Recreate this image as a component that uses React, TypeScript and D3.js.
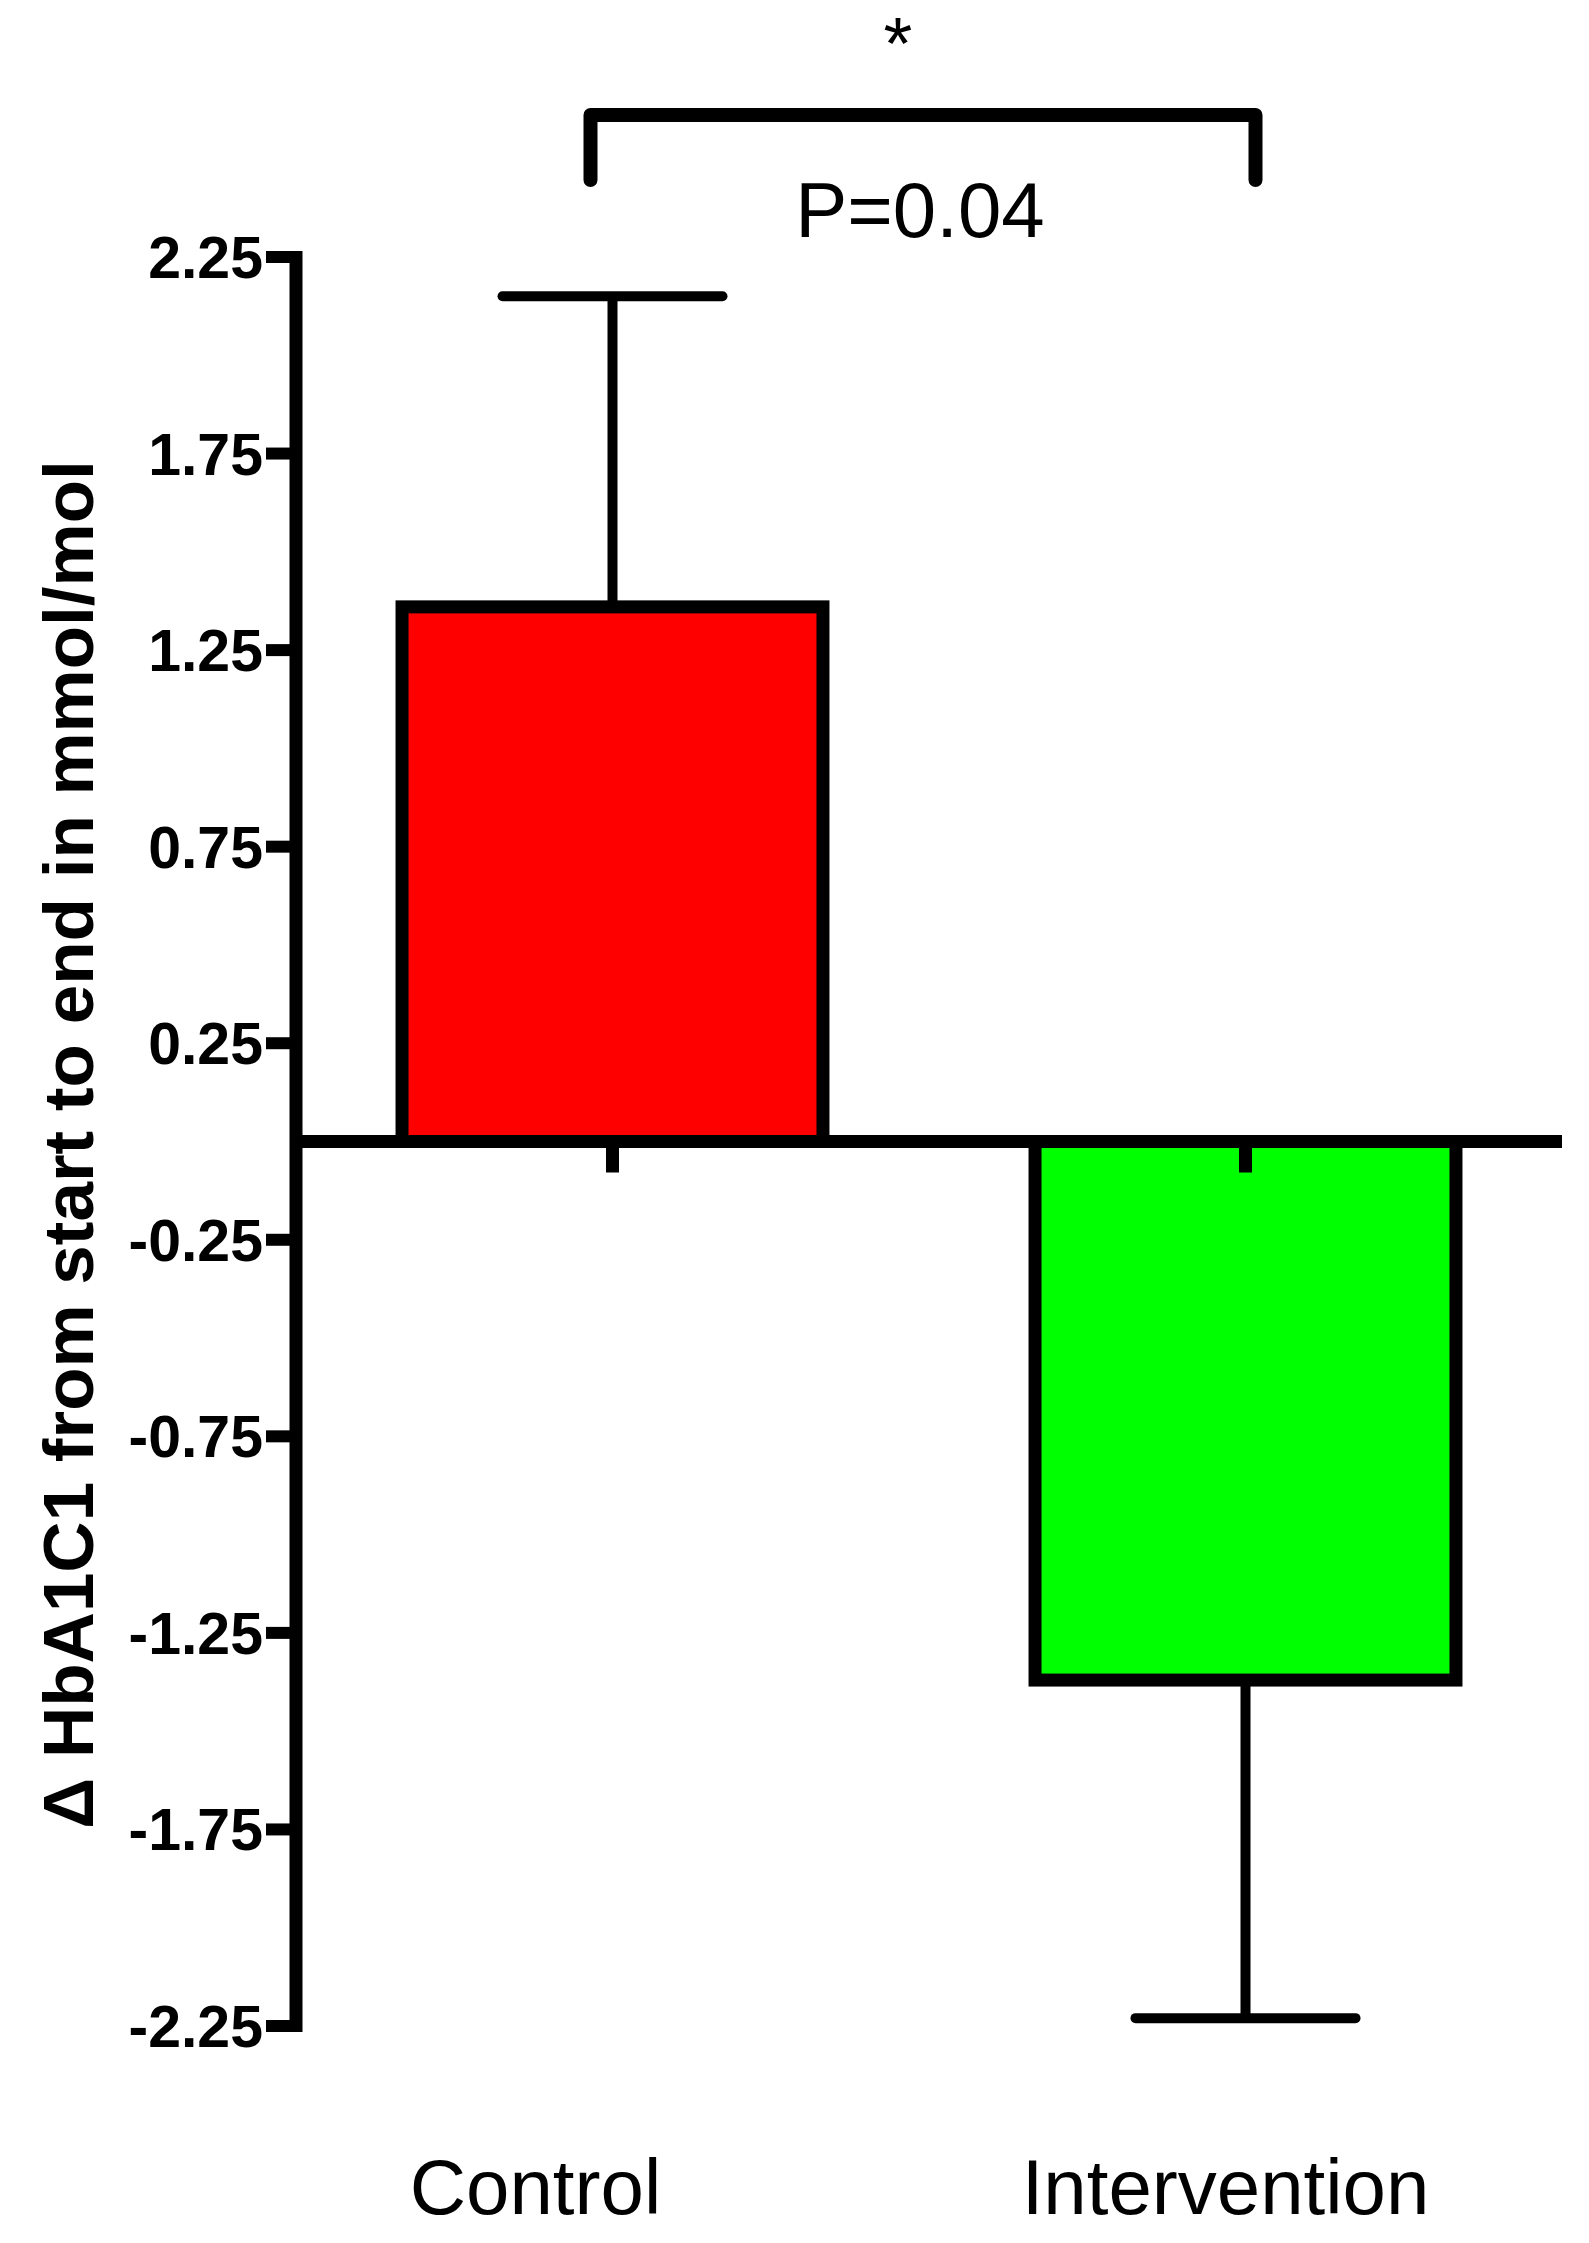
import React from "react";
import * as d3 from "d3";

const categories = ["Control", "Intervention"];
const means = [1.36, -1.37];
const errors = [0.79, 0.86];
const fills = ["#ff0000", "#00ff00"];
const yTicks = [2.25, 1.75, 1.25, 0.75, 0.25, -0.25, -0.75, -1.25, -1.75, -2.25];
const yTitle = "\u0394 HbA1C1 from start to end in mmol/mol";
const pText = "P=0.04";
const starText = "*";

const W = 1589;
const H = 2243;
const FONT = "'Liberation Sans', Arial, Helvetica, sans-serif";

export default function App() {
  const y = d3.scaleLinear().domain([-2.25, 2.25]).range([2026, 257]);
  const x = d3
    .scaleBand<string>()
    .domain(categories)
    .range([296, 1562])
    .paddingInner(0.335)
    .paddingOuter(0.1675);
  const bw = x.bandwidth();
  const y0 = y(0);
  const axisX = 296;
  const labelShift = [-77, -20];

  const cx = (c: string) => (x(c) as number) + bw / 2;
  const bracketLeft = cx(categories[0]) - 22;
  const bracketRight = cx(categories[1]) + 10;

  return (
    <svg
      width={W}
      height={H}
      viewBox={`0 0 ${W} ${H}`}
      style={{ position: "absolute", left: 0, top: 0, background: "#fff" }}
    >
      <rect x={0} y={0} width={W} height={H} fill="#fff" />
      {/* Y axis */}
      <line x1={axisX} x2={axisX} y1={y(2.25) - 6} y2={y(-2.25) + 6} stroke="#000" strokeWidth={13} />
      {yTicks.map((t) => (
        <g key={t}>
          <line x1={axisX - 30} x2={axisX} y1={y(t)} y2={y(t)} stroke="#000" strokeWidth={12} />
          <text
            x={263}
            y={y(t) + 21}
            textAnchor="end"
            fontFamily={FONT}
            fontWeight="bold"
            fontSize={59}
            fill="#000"
          >
            {t.toFixed(2)}
          </text>
        </g>
      ))}
      {/* Y title */}
      <text
        transform={`translate(93, ${y0 + 3}) rotate(-90)`}
        textAnchor="middle"
        fontFamily={FONT}
        fontWeight="bold"
        fontSize={71}
        fill="#000"
      >
        {yTitle}
      </text>

      {/* Bars */}
      {categories.map((c, i) => {
        const top = Math.min(y(means[i]), y0);
        const h = Math.abs(y(means[i]) - y0);
        return (
          <rect
            key={c}
            x={x(c)}
            y={top}
            width={bw}
            height={h}
            fill={fills[i]}
            stroke="#000"
            strokeWidth={13}
          />
        );
      })}

      {/* Zero line */}
      <line x1={axisX} x2={1562} y1={y0} y2={y0} stroke="#000" strokeWidth={13} />
      {/* X ticks */}
      {categories.map((c) => (
        <line key={c} x1={cx(c)} x2={cx(c)} y1={y0} y2={y0 + 31} stroke="#000" strokeWidth={13} />
      ))}

      {/* Error bars */}
      {categories.map((c, i) => {
        const m = means[i];
        const end = m >= 0 ? m + errors[i] : m - errors[i];
        return (
          <g key={c}>
            <line
              x1={cx(c)}
              x2={cx(c)}
              y1={y(m)}
              y2={y(end)}
              stroke="#000"
              strokeWidth={10}
            />
            <line
              x1={cx(c) - 110}
              x2={cx(c) + 110}
              y1={y(end)}
              y2={y(end)}
              stroke="#000"
              strokeWidth={10}
              strokeLinecap="round"
            />
          </g>
        );
      })}

      {/* Category labels */}
      {categories.map((c, i) => (
        <text
          key={c}
          x={cx(c) + labelShift[i]}
          y={2214}
          textAnchor="middle"
          fontFamily={FONT}
          fontSize={78}
          fill="#000"
        >
          {c}
        </text>
      ))}

      {/* Significance bracket */}
      <path
        d={`M${bracketLeft},180 L${bracketLeft},115 L${bracketRight},115 L${bracketRight},180`}
        fill="none"
        stroke="#000"
        strokeWidth={14}
        strokeLinecap="round"
        strokeLinejoin="round"
      />
      <text x={898} y={69} textAnchor="middle" fontFamily={FONT} fontSize={74} fill="#000">
        {starText}
      </text>
      <text x={920} y={237} textAnchor="middle" fontFamily={FONT} fontSize={78} fill="#000">
        {pText}
      </text>
    </svg>
  );
}
